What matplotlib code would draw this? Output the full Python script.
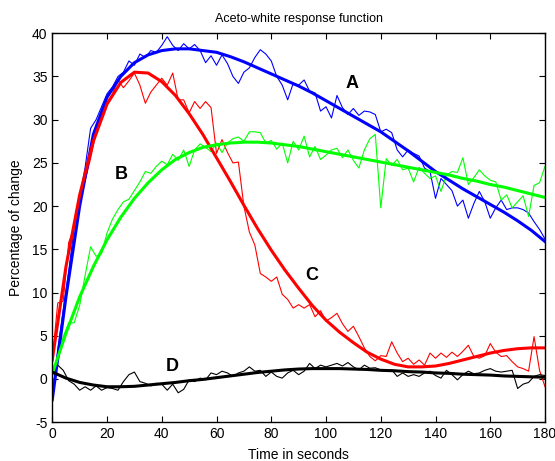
import numpy as np
import matplotlib
matplotlib.use('Agg')
import matplotlib.pyplot as plt

plt.rcParams['font.family'] = ['Liberation Sans', 'DejaVu Sans']
plt.rcParams['axes.unicode_minus'] = False

# time axes
t_raw = np.arange(0, 181, 2)
t_fit = np.arange(0, 181, 5)

# raw (noisy) measurements, one value every 2 s
a_raw = [-2.0, 3.5, 8.0, 12.5, 17.5, 21.0, 24.5, 29.0, 30.0, 31.5,
         33.0, 33.8, 35.0, 35.5, 36.8, 36.3, 37.6, 37.2, 38.0, 37.8,
         38.6, 39.6, 38.6, 38.0, 38.8, 38.2, 38.7, 38.0, 36.6, 37.4,
         36.3, 37.5, 36.5, 35.0, 34.2, 35.5, 36.0, 37.2, 38.1, 37.6,
         36.8, 35.0, 34.0, 32.3, 34.2, 34.0, 34.6, 33.3, 33.1, 31.0,
         31.5, 30.2, 32.8, 31.4, 30.6, 31.3, 30.5, 31.0, 30.9, 30.6,
         28.6, 28.9, 28.5, 26.5, 25.7, 26.5, 26.1, 25.8, 24.4, 24.0,
         20.9, 23.2, 22.5, 21.8, 20.0, 20.7, 18.6, 20.3, 21.7, 20.5,
         18.6, 19.8, 20.7, 19.6, 19.8, 19.8, 19.6, 19.2, 18.2, 17.3,
         16.2]
b_raw = [0.5, 2.0, 4.9, 6.5, 6.5, 8.5, 12.0, 15.3, 14.2, 14.5,
         16.9, 18.5, 19.6, 20.5, 20.8, 21.8, 22.8, 24.0, 23.8, 24.6,
         25.2, 24.8, 26.0, 25.3, 26.5, 24.6, 26.5, 27.2, 26.8, 26.3,
         27.3, 26.2, 27.3, 27.8, 28.0, 27.5, 28.6, 28.6, 28.5, 27.3,
         27.6, 26.6, 27.3, 25.0, 27.5, 26.5, 28.1, 25.7, 26.9, 25.4,
         25.9, 26.5, 26.7, 25.6, 26.5, 25.3, 24.4, 26.5, 27.8, 28.3,
         19.8, 25.5, 24.7, 25.4, 24.2, 24.4, 22.8, 24.5, 23.8, 23.2,
         23.5, 21.7, 23.6, 24.0, 23.9, 25.6, 22.5, 23.3, 24.2, 23.5,
         23.0, 22.8, 20.7, 21.3, 19.8, 20.5, 21.2, 18.8, 22.4, 22.7,
         24.6]
c_raw = [2.2, 8.8, 9.0, 15.8, 17.5, 20.7, 23.0, 25.5, 28.5, 30.2,
         32.0, 33.0, 34.6, 33.7, 34.5, 35.4, 34.0, 31.9, 33.2, 34.0,
         34.8, 34.0, 35.4, 32.3, 32.3, 30.8, 32.1, 31.3, 32.1, 31.4,
         26.1, 27.7, 26.2, 25.0, 25.1, 20.0, 17.0, 15.5, 12.2, 11.8,
         11.3, 11.8, 9.8, 9.2, 8.2, 8.6, 8.2, 8.6, 7.2, 7.9,
         6.7, 7.1, 7.6, 6.4, 5.5, 6.1, 4.9, 3.6, 2.6, 2.1,
         2.7, 2.6, 4.3, 3.0, 2.0, 2.4, 1.7, 2.2, 1.6, 3.0,
         2.4, 3.0, 2.5, 3.1, 2.6, 3.2, 3.9, 2.6, 2.4, 2.7,
         4.1, 3.1, 2.6, 2.7, 2.0, 1.4, 1.2, 0.9, 4.9, 1.0,
         -0.9]
d_raw = [0.5, 1.6, 1.0, -0.2, -0.6, -1.3, -0.9, -1.3, -0.8, -1.3,
         -1.0, -1.1, -1.3, -0.3, 0.5, 0.8, -0.3, -0.5, -0.8, -0.5,
         -0.6, -1.3, -0.6, -1.6, -1.2, -0.1, -0.3, 0.1, -0.1, 0.7,
         0.5, 0.9, 0.7, 0.3, 0.7, 0.9, 1.4, 0.9, 1.0, 0.3,
         0.8, 0.3, 0.1, 0.7, 1.0, 0.5, 0.9, 1.8, 1.2, 1.6,
         1.4, 1.6, 1.8, 1.5, 1.9, 1.4, 1.05, 1.6, 1.25, 1.3,
         1.05, 0.9, 1.05, 0.3, 0.7, 0.3, 0.5, 0.3, 0.7, 0.9,
         0.4, 0.1, 1.0, 0.5, -0.1, 0.5, 0.9, 0.6, 0.7, 1.0,
         1.2, 0.9, 0.8, 0.9, 1.0, -1.1, -0.6, -0.4, 0.3, 0.5,
         0.4]

# fitted response curves, one value every 5 s
a_fit = [-2.4, 9.5, 20.0, 28.3, 32.6, 35.0, 36.6, 37.5, 38.0, 38.2,
         38.2, 38.0, 37.8, 37.3, 36.7, 36.0, 35.3, 34.6, 33.9, 33.1,
         32.2, 31.3, 30.4, 29.5, 28.6, 27.5, 26.4, 25.2, 24.0, 23.0,
         22.0, 21.1, 20.2, 19.3, 18.3, 17.2, 15.9]
b_fit = [0.6, 5.3, 9.5, 13.0, 16.1, 18.7, 20.9, 22.7, 24.2, 25.4,
         26.2, 26.8, 27.1, 27.3, 27.4, 27.4, 27.3, 27.1, 26.9, 26.6,
         26.3, 26.0, 25.7, 25.4, 25.1, 24.8, 24.5, 24.2, 23.9, 23.6,
         23.2, 22.9, 22.5, 22.2, 21.8, 21.4, 21.0]
c_fit = [2.2, 13.0, 21.3, 27.5, 31.8, 34.3, 35.5, 35.4, 34.4, 32.8,
         30.7, 28.3, 25.6, 22.9, 20.1, 17.4, 14.9, 12.6, 10.5, 8.5,
         6.8, 5.4, 4.2, 3.1, 2.3, 1.7, 1.4, 1.4, 1.5, 1.8,
         2.2, 2.6, 3.0, 3.3, 3.5, 3.6, 3.6]
d_fit = [0.8, 0.1, -0.4, -0.7, -0.9, -0.9, -0.85, -0.7, -0.55, -0.4,
         -0.2, -0.05, 0.15, 0.35, 0.55, 0.75, 0.9, 1.05, 1.15, 1.2,
         1.2, 1.2, 1.15, 1.1, 1.0, 0.95, 0.85, 0.8, 0.7, 0.65,
         0.55, 0.5, 0.45, 0.35, 0.3, 0.25, 0.2]

# curve labels
labels = ['A', 'B', 'C', 'D']
label_t = [109.5, 25.1, 94.9, 43.8]
label_v = [34.2, 23.7, 12.0, 1.4]

fig = plt.figure(figsize=(5.55, 4.61), dpi=100)
ax = fig.add_axes([0.0942, 0.0842, 0.8878, 0.8436])

raw = [a_raw, c_raw, b_raw, d_raw]
fits = [a_fit, c_fit, b_fit, d_fit]
colors = ['#0000ff', '#ff0000', '#00ff00', '#000000']
for r, c in zip(raw, colors):
    ax.plot(t_raw, r, color=c, lw=0.8)
for f, c in zip(fits, colors):
    ax.plot(t_fit, f, color=c, lw=2.2)

for lab, x, y in zip(labels, label_t, label_v):
    ax.text(x, y, lab, fontsize=13, fontweight='bold', ha='center', va='center')

ax.set_xlim(0, 180)
ax.set_ylim(-5, 40)
ax.set_xticks(np.arange(0, 181, 20))
ax.set_yticks(np.arange(-5, 41, 5))
ax.tick_params(direction='in', top=True, right=True, length=4, labelsize=10)
for s in ax.spines.values():
    s.set_linewidth(1.0)

ax.set_title('Aceto-white response function', fontsize=9, pad=8)
ax.set_xlabel('Time in seconds', fontsize=10, labelpad=5)
ax.set_ylabel('Percentage of change', fontsize=10, labelpad=6)

fig.savefig('out.png', dpi=100)
